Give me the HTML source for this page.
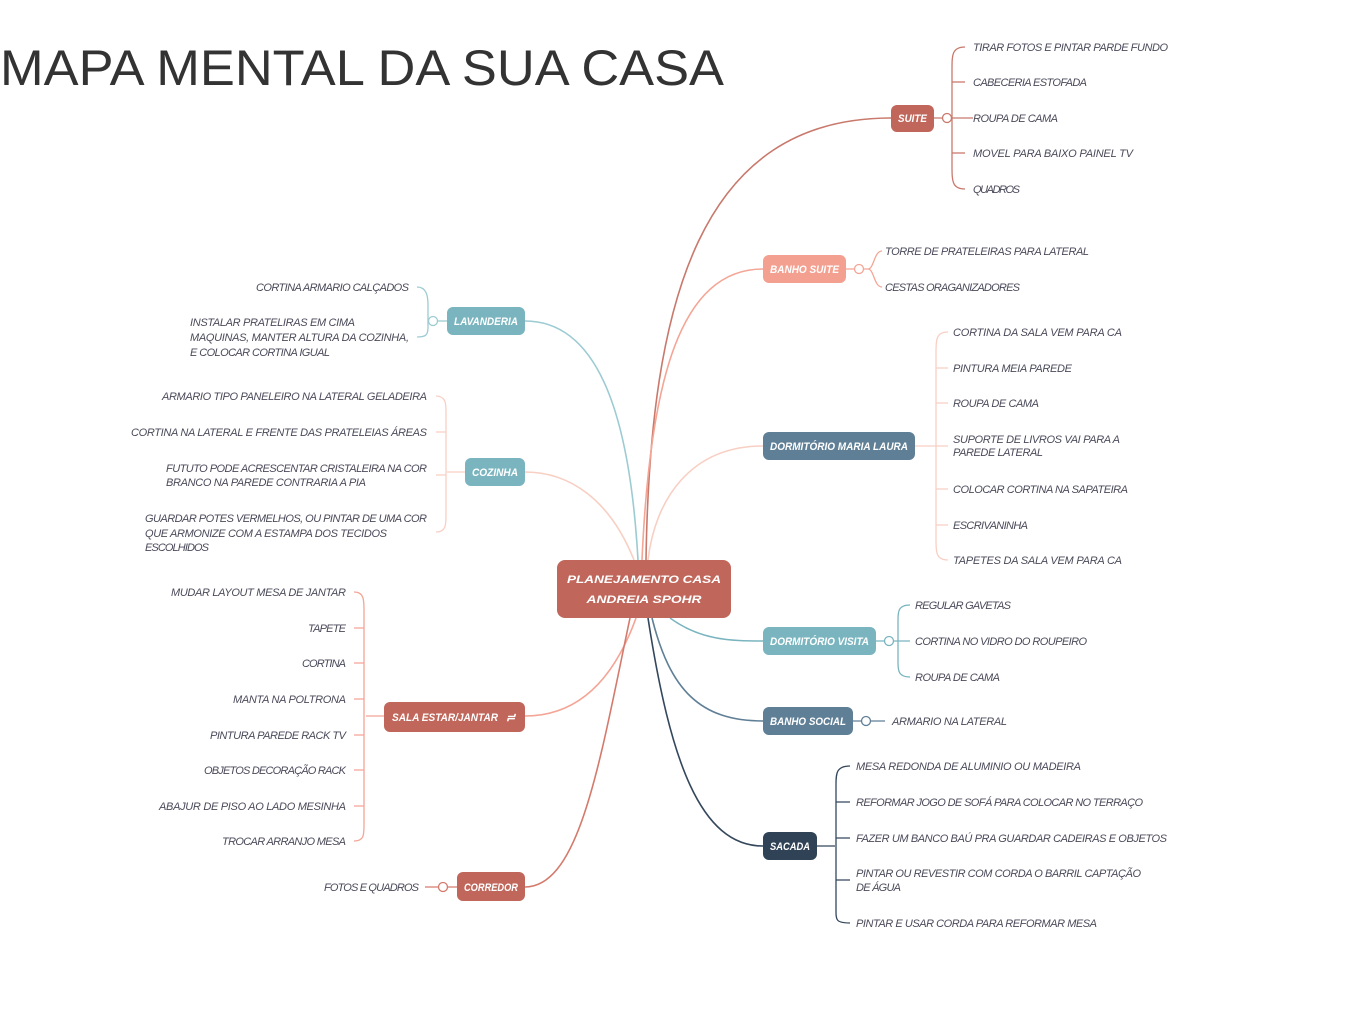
<!DOCTYPE html>
<html><head><meta charset="utf-8"><style>
html,body{margin:0;padding:0;background:#fff;}
svg{display:block}
.t{font-family:"Liberation Sans",sans-serif;font-style:italic;font-size:11px;fill:#4a4a5a;}
.n{font-family:"Liberation Sans",sans-serif;font-style:italic;font-weight:bold;font-size:11px;fill:#fff;}
</style></head><body>
<svg width="1358" height="1022" viewBox="0 0 1358 1022" xmlns="http://www.w3.org/2000/svg">
<text x="0" y="85" font-family="Liberation Sans, sans-serif" font-size="50" fill="#333" textLength="724" lengthAdjust="spacingAndGlyphs">MAPA MENTAL DA SUA CASA</text>

<g fill="none" stroke-width="1.6">
<!-- main branches -->
<path d="M646,560 C650,300 700,118 891,118" stroke="#c8796c"/>
<path d="M642,560 C650,380 680,269 763,269" stroke="#f4a595"/>
<path d="M648,560 C655,500 690,446 763,446" stroke="#f8cfc3"/>
<path d="M670,618 C700,640 730,641 763,641" stroke="#7ab5bf"/>
<path d="M652,618 C670,690 700,721 763,721" stroke="#5f7f96"/>
<path d="M648,618 C670,760 700,846 763,846" stroke="#34475c"/>
<path d="M638,560 C630,420 600,321 525,321" stroke="#9ccbd2"/>
<path d="M634,560 C610,500 570,472 525,472" stroke="#f8cfc3"/>
<path d="M636,618 C610,690 570,716 525,716" stroke="#f4a595"/>
<path d="M630,618 C600,760 580,887 525,887" stroke="#d47a6c"/>
</g>

<!-- brackets -->
<g fill="none" stroke-width="1.3">
<g stroke="#c8796c">
<path d="M934,118 H973"/>
<path d="M965,47 C952,47 952,55 952,70 V165 C952,181 952,189 965,189"/>
<path d="M952,82 C952,82 955,82 965,82"/><path d="M952,153 C955,153 960,153 965,153"/>
</g>
<g stroke="#f4a595">
<path d="M846,269 H868 C874,269 874,251 882,251 M868,269 C874,269 874,287 882,287"/>
</g>
<g stroke="#f8cfc3">
<path d="M915,446 H936"/>
<path d="M948,332 C936,332 936,340 936,352 V540 C936,552 936,560 948,560"/>
<path d="M936,368 H948 M936,403 H948 M936,446 H948 M936,489 H948 M936,525 H948"/>
</g>
<g stroke="#7ab5bf">
<path d="M876,641 H910"/>
<path d="M910,605 C898,605 898,612 898,620 V662 C898,670 898,677 910,677"/>
</g>
<g stroke="#5f7f96"><path d="M853,721 H885"/></g>
<g stroke="#34475c">
<path d="M817,846 H835"/>
<path d="M850,766 C836,766 836,774 836,785 V910 C836,920 836,923 850,923"/>
<path d="M836,802 H850 M836,838 H850 M836,880 H850"/>
</g>
<g stroke="#9ccbd2">
<path d="M447,321 H433"/>
<path d="M417,287 C426,287 428,295 428,305 V327 C428,335 426,337 417,337"/>
</g>
<g stroke="#f8cfc3">
<path d="M465,472 H447"/>
<path d="M436,396 C446,396 446,404 446,412 V515 C446,525 446,532 436,532"/>
<path d="M446,432 H436 M446,475 H436"/>
</g>
<g stroke="#f4a595">
<path d="M384,716 H366"/>
<path d="M354,592 C364,592 364,600 364,610 V825 C364,835 364,841 354,841"/>
<path d="M364,628 H354 M364,663 H354 M364,699 H354 M364,735 H354 M364,770 H354 M364,806 H354"/>
</g>
<g stroke="#d47a6c"><path d="M457,887 H425"/></g>
</g>
<g fill="#fff" stroke-width="1.3">
<circle cx="947" cy="118" r="4.5" stroke="#c8796c"/>
<circle cx="859" cy="269" r="4.5" stroke="#f4a595"/>
<circle cx="889" cy="641" r="4.5" stroke="#7ab5bf"/>
<circle cx="866" cy="721" r="4.5" stroke="#5f7f96"/>
<circle cx="433" cy="321" r="4.5" stroke="#9ccbd2"/>
<circle cx="443" cy="887" r="4.5" stroke="#d47a6c"/>
</g>

<!-- nodes -->
<rect x="557" y="560" width="174" height="58" rx="8" fill="#c0665a"/>
<text class="n" x="644" y="583" text-anchor="middle" font-size="13.5" textLength="154" lengthAdjust="spacingAndGlyphs">PLANEJAMENTO CASA</text>
<text class="n" x="644" y="603" text-anchor="middle" font-size="13.5" textLength="115" lengthAdjust="spacingAndGlyphs">ANDREIA SPOHR</text>

<rect x="891" y="105" width="43" height="27" rx="6" fill="#c0665a"/><text class="n" x="912.5" y="122" text-anchor="middle" textLength="29" lengthAdjust="spacingAndGlyphs">SUITE</text>
<rect x="763" y="255" width="83" height="28" rx="6" fill="#f4a090"/><text class="n" x="804.5" y="273" text-anchor="middle" textLength="69" lengthAdjust="spacingAndGlyphs">BANHO SUITE</text>
<rect x="763" y="432" width="152" height="28" rx="6" fill="#5f7f96"/><text class="n" x="839" y="450" text-anchor="middle" textLength="138" lengthAdjust="spacingAndGlyphs">DORMITÓRIO MARIA LAURA</text>
<rect x="763" y="627" width="113" height="28" rx="6" fill="#7ab5bf"/><text class="n" x="819.5" y="645" text-anchor="middle" textLength="99" lengthAdjust="spacingAndGlyphs">DORMITÓRIO VISITA</text>
<rect x="763" y="707" width="90" height="28" rx="6" fill="#5f7f96"/><text class="n" x="808" y="725" text-anchor="middle" textLength="76" lengthAdjust="spacingAndGlyphs">BANHO SOCIAL</text>
<rect x="763" y="832" width="54" height="28" rx="6" fill="#2f4256"/><text class="n" x="790" y="850" text-anchor="middle" textLength="40" lengthAdjust="spacingAndGlyphs">SACADA</text>
<rect x="447" y="307" width="78" height="28" rx="6" fill="#7ab5bf"/><text class="n" x="486" y="325" text-anchor="middle" textLength="64" lengthAdjust="spacingAndGlyphs">LAVANDERIA</text>
<rect x="465" y="458" width="60" height="28" rx="6" fill="#7ab5bf"/><text class="n" x="495" y="476" text-anchor="middle" textLength="46" lengthAdjust="spacingAndGlyphs">COZINHA</text>
<rect x="384" y="702" width="141" height="30" rx="6" fill="#c0665a"/><text class="n" x="392" y="721" textLength="106" lengthAdjust="spacingAndGlyphs">SALA ESTAR/JANTAR</text><text class="n" x="506" y="721" font-size="9">≓</text>
<rect x="457" y="872" width="68" height="29" rx="6" fill="#c0665a"/><text class="n" x="491" y="891" text-anchor="middle" textLength="54" lengthAdjust="spacingAndGlyphs">CORREDOR</text>

<!-- right side leaves -->
<g class="t" lengthAdjust="spacingAndGlyphs">
<text class="t" x="973" y="51" textLength="195">TIRAR FOTOS E PINTAR PARDE FUNDO</text>
<text class="t" x="973" y="86" textLength="114">CABECERIA ESTOFADA</text>
<text class="t" x="973" y="122" textLength="85">ROUPA DE CAMA</text>
<text class="t" x="973" y="157" textLength="160">MOVEL PARA BAIXO PAINEL TV</text>
<text class="t" x="973" y="193" textLength="47">QUADROS</text>
<text class="t" x="885" y="255" textLength="204">TORRE DE PRATELEIRAS PARA LATERAL</text>
<text class="t" x="885" y="291" textLength="135">CESTAS ORAGANIZADORES</text>
<text class="t" x="953" y="336" textLength="169">CORTINA DA SALA VEM PARA CA</text>
<text class="t" x="953" y="372" textLength="119">PINTURA MEIA PAREDE</text>
<text class="t" x="953" y="407" textLength="86">ROUPA DE CAMA</text>
<text class="t" x="953" y="443" textLength="167">SUPORTE DE LIVROS VAI PARA A</text>
<text class="t" x="953" y="456" textLength="90">PAREDE LATERAL</text>
<text class="t" x="953" y="493" textLength="175">COLOCAR CORTINA NA SAPATEIRA</text>
<text class="t" x="953" y="529" textLength="75">ESCRIVANINHA</text>
<text class="t" x="953" y="564" textLength="169">TAPETES DA SALA VEM PARA CA</text>
<text class="t" x="915" y="609" textLength="96">REGULAR GAVETAS</text>
<text class="t" x="915" y="645" textLength="172">CORTINA NO VIDRO DO ROUPEIRO</text>
<text class="t" x="915" y="681" textLength="85">ROUPA DE CAMA</text>
<text class="t" x="892" y="725" textLength="115">ARMARIO NA LATERAL</text>
<text class="t" x="856" y="770" textLength="225">MESA REDONDA DE ALUMINIO OU MADEIRA</text>
<text class="t" x="856" y="806" textLength="287">REFORMAR JOGO DE SOFÁ PARA COLOCAR NO TERRAÇO</text>
<text class="t" x="856" y="842" textLength="311">FAZER UM BANCO BAÚ PRA GUARDAR CADEIRAS E OBJETOS</text>
<text class="t" x="856" y="877" textLength="285">PINTAR OU REVESTIR COM CORDA O BARRIL CAPTAÇÃO</text>
<text class="t" x="856" y="891" textLength="45">DE ÁGUA</text>
<text class="t" x="856" y="927" textLength="241">PINTAR E USAR CORDA PARA REFORMAR MESA</text>

<!-- left side leaves -->
<text class="t" x="256" y="291" textLength="153">CORTINA ARMARIO CALÇADOS</text>
<text class="t" x="190" y="326" textLength="165">INSTALAR PRATELIRAS EM CIMA</text>
<text class="t" x="190" y="341" textLength="219">MAQUINAS, MANTER ALTURA DA COZINHA,</text>
<text class="t" x="190" y="356" textLength="140">E COLOCAR CORTINA IGUAL</text>
<text class="t" x="162" y="400" textLength="265">ARMARIO TIPO PANELEIRO NA LATERAL GELADEIRA</text>
<text class="t" x="131" y="436" textLength="296">CORTINA NA LATERAL E FRENTE DAS PRATELEIAS ÁREAS</text>
<text class="t" x="166" y="472" textLength="261">FUTUTO PODE ACRESCENTAR CRISTALEIRA NA COR</text>
<text class="t" x="166" y="486" textLength="200">BRANCO NA PAREDE CONTRARIA A PIA</text>
<text class="t" x="145" y="522" textLength="282">GUARDAR POTES VERMELHOS, OU PINTAR DE UMA COR</text>
<text class="t" x="145" y="537" textLength="242">QUE ARMONIZE COM A ESTAMPA DOS TECIDOS</text>
<text class="t" x="145" y="551" textLength="64">ESCOLHIDOS</text>
<text class="t" x="171" y="596" textLength="175">MUDAR LAYOUT MESA DE JANTAR</text>
<text class="t" x="308" y="632" textLength="38">TAPETE</text>
<text class="t" x="302" y="667" textLength="44">CORTINA</text>
<text class="t" x="233" y="703" textLength="113">MANTA NA POLTRONA</text>
<text class="t" x="210" y="739" textLength="136">PINTURA PAREDE RACK TV</text>
<text class="t" x="204" y="774" textLength="142">OBJETOS DECORAÇÃO RACK</text>
<text class="t" x="159" y="810" textLength="187">ABAJUR DE PISO AO LADO MESINHA</text>
<text class="t" x="222" y="845" textLength="124">TROCAR ARRANJO MESA</text>
<text class="t" x="324" y="891" textLength="95">FOTOS E QUADROS</text>
</g>
</svg>
</body></html>
